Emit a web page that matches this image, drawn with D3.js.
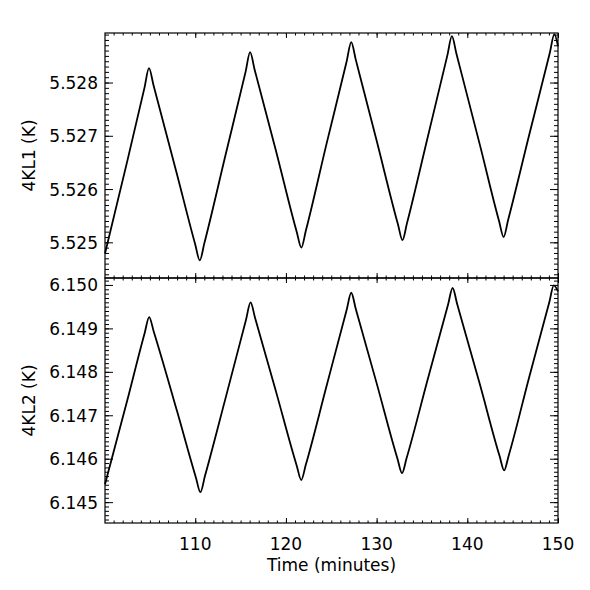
<!DOCTYPE html>
<html>
<head>
<meta charset="utf-8">
<script src="https://cdn.jsdelivr.net/npm/d3@7"></script>
<style>
  body { margin: 0; background: #fff; }
  text { font-family: "DejaVu Sans", sans-serif; fill: #000; }
</style>
</head>
<body>
<div id="my_dataviz"></div>
<script>
// time in minutes and temperature readings (K) for the two sensors
var time1 = [100.05, 102.5, 104.4, 104.9, 105.4, 108.0, 110.0, 110.5, 111.0, 113.3, 115.55, 116.05,
  116.55, 118.9, 121.2, 121.7, 122.2, 124.45, 126.7, 127.2, 127.7, 130.0, 132.35, 132.85,
  133.35, 135.6, 137.8, 138.3, 138.8, 141.4, 143.5, 144.0, 144.5, 146.8, 149.1, 149.6, 150.0]
var kl1 = [5.52479, 5.52652, 5.52790, 5.52827, 5.52795, 5.52627, 5.52496, 5.52466, 5.52498, 5.52661, 5.52820, 5.52857,
  5.52824, 5.52672, 5.52519, 5.52490, 5.52522, 5.52683, 5.52840, 5.52876, 5.52843, 5.52691, 5.52534, 5.52504,
  5.52536, 5.52695, 5.52851, 5.52887, 5.52854, 5.52682, 5.52540, 5.52510, 5.52542, 5.52700, 5.52856, 5.52891, 5.52868]

var time2 = [100.05, 102.5, 104.42, 104.92, 105.42, 108.0, 110.07, 110.57, 111.07, 113.3, 115.6, 116.1,
  116.6, 118.9, 121.19, 121.69, 122.19, 124.45, 126.7, 127.2, 127.7, 130.0, 132.3, 132.8,
  133.3, 135.6, 137.88, 138.38, 138.88, 141.4, 143.56, 144.06, 144.56, 146.8, 149.04, 149.54, 150.0]
var kl2 = [6.14541, 6.14734, 6.14889, 6.14926, 6.14893, 6.14709, 6.14557, 6.14523, 6.14560, 6.14736, 6.14920, 6.14960,
  6.14924, 6.14755, 6.14584, 6.14551, 6.14586, 6.14765, 6.14943, 6.14982, 6.14945, 6.14774, 6.14600, 6.14567,
  6.14601, 6.14780, 6.14955, 6.14993, 6.14956, 6.14770, 6.14606, 6.14573, 6.14607, 6.14786, 6.14960, 6.14999, 6.14985]

var xTicks = [110, 120, 130, 140, 150]
var yTicks1 = [5.525, 5.526, 5.527, 5.528]
var yTicks2 = [6.145, 6.146, 6.147, 6.148, 6.149, 6.150]

var margin = {top: 33, right: 32, bottom: 67, left: 105},
    width = 590 - margin.left - margin.right,
    panelH = (590 - margin.top - margin.bottom) / 2

var svg = d3.select("#my_dataviz")
  .append("svg")
    .attr("width", 590)
    .attr("height", 590)
  .append("g")
    .attr("transform", "translate(" + margin.left + "," + margin.top + ")")

var x = d3.scaleLinear()
  .domain([100.05, 150])
  .range([0, width])

var xMinor = d3.range(101, 151, 1)

svg.append("clipPath")
    .attr("id", "clip")
  .append("rect")
    .attr("width", width)
    .attr("height", panelH * 2)

function drawPanel(top, times, vals, yDomain, yTicks, label, showX) {
  var g = svg.append("g").attr("transform", "translate(0," + top + ")")

  var y = d3.scaleLinear()
    .domain(yDomain)
    .range([panelH, 0])

  var yMinor = d3.range(Math.ceil(yDomain[0] * 10000), Math.floor(yDomain[1] * 10000) + 1)
    .map(function(d) { return d / 10000 })

  // ticks point inward on all four sides
  g.append("g").call(d3.axisBottom(x).tickValues(xMinor).tickSize(-2.5).tickFormat(""))
    .attr("transform", "translate(0," + panelH + ")")
  g.append("g").call(d3.axisBottom(x).tickValues(xTicks).tickSize(-5).tickFormat(""))
    .attr("transform", "translate(0," + panelH + ")")
  g.append("g").call(d3.axisTop(x).tickValues(xMinor).tickSize(-2.5).tickFormat(""))
  g.append("g").call(d3.axisTop(x).tickValues(xTicks).tickSize(-5).tickFormat(""))

  g.append("g").call(d3.axisLeft(y).tickValues(yMinor).tickSize(-4).tickFormat(""))
  g.append("g").call(d3.axisLeft(y).tickValues(yTicks).tickSize(-8).tickFormat(""))
  g.append("g").call(d3.axisRight(y).tickValues(yMinor).tickSize(-4).tickFormat(""))
    .attr("transform", "translate(" + width + ",0)")
  g.append("g").call(d3.axisRight(y).tickValues(yTicks).tickSize(-8).tickFormat(""))
    .attr("transform", "translate(" + width + ",0)")

  g.selectAll(".domain").remove()
  g.selectAll(".tick line").attr("stroke", "#000").attr("stroke-width", 1)

  // frame
  g.append("rect")
    .attr("width", width)
    .attr("height", panelH)
    .attr("fill", "none")
    .attr("stroke", "#000")
    .attr("stroke-width", 1.2)

  // y labels
  g.selectAll(".ylab")
    .data(yTicks)
    .enter()
    .append("text")
      .attr("x", -7)
      .attr("y", function(d) { return y(d) + 6.5 })
      .attr("text-anchor", "end")
      .style("font-size", "17px")
      .text(function(d) { return d3.format(".3f")(d) })

  g.append("text")
    .attr("transform", "translate(-70," + (panelH / 2) + ") rotate(-90)")
    .attr("text-anchor", "middle")
    .style("font-size", "17px")
    .text(label)

  if (showX) {
    g.selectAll(".xlab")
      .data(xTicks)
      .enter()
      .append("text")
        .attr("x", function(d) { return x(d) })
        .attr("y", panelH + 26.5)
        .attr("text-anchor", "middle")
        .style("font-size", "17px")
        .text(function(d) { return d })
  }

  var line = d3.line()
    .curve(d3.curveMonotoneX)
    .x(function(d, i) { return x(times[i]) })
    .y(function(d) { return y(d) })

  g.append("path")
    .datum(vals)
    .attr("fill", "none")
    .attr("stroke", "#000")
    .attr("stroke-width", 1.8)
    .attr("stroke-linejoin", "round")
    .attr("d", line)

  return g
}

drawPanel(0, time1, kl1, [5.52433, 5.52893], yTicks1, "4KL1 (K)", false)
drawPanel(panelH, time2, kl2, [6.14452, 6.15016], yTicks2, "4KL2 (K)", true)

svg.append("text")
  .attr("x", width / 2)
  .attr("y", panelH * 2 + 47.5)
  .attr("text-anchor", "middle")
  .style("font-size", "17px")
  .text("Time (minutes)")
</script>
</body>
</html>
